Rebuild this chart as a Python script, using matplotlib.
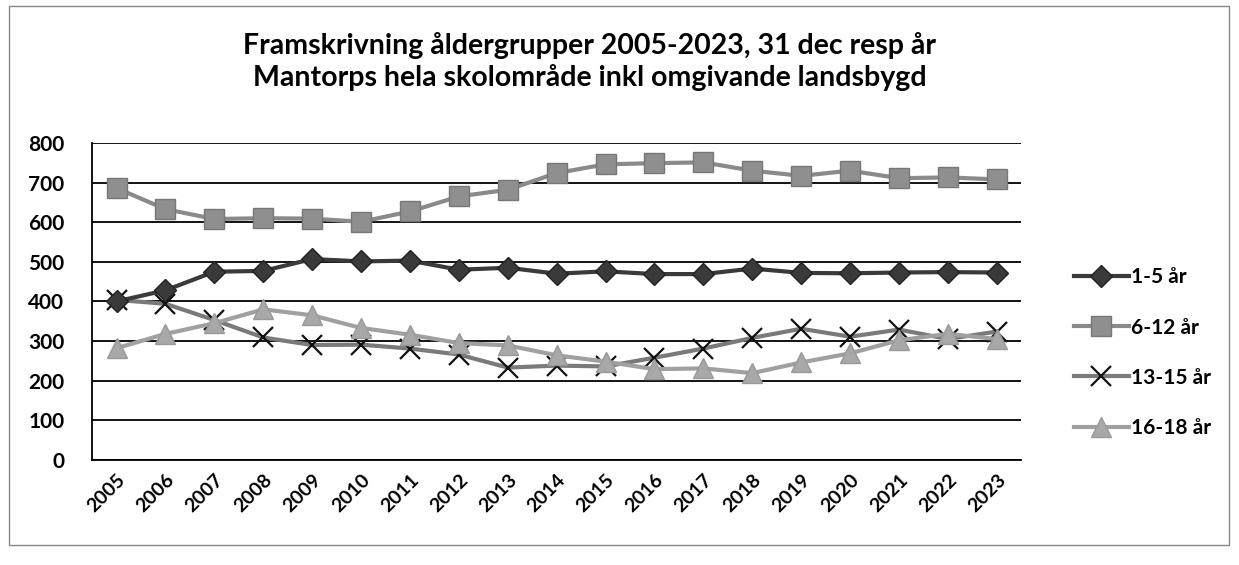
import matplotlib
matplotlib.use("Agg")
import matplotlib.pyplot as plt
from matplotlib.patches import Rectangle

years = [str(y) for y in range(2005, 2024)]
age_1_5 = [400, 428, 475, 477, 507, 501, 503, 480, 485, 470, 476, 469, 469, 483, 472, 471, 473, 474, 473]
age_6_12 = [686, 633, 608, 610, 609, 601, 627, 665, 682, 724, 746, 749, 751, 730, 717, 730, 711, 713, 708]
age_13_15 = [404, 394, 353, 309, 290, 291, 281, 266, 233, 238, 236, 258, 281, 308, 331, 311, 329, 305, 324]
age_16_18 = [282, 318, 345, 380, 365, 333, 316, 295, 289, 264, 248, 229, 231, 219, 246, 269, 302, 318, 305]
labels = ["1-5 år", "6-12 år", "13-15 år", "16-18 år"]

plt.rcParams['font.family'] = ['Lato', 'DejaVu Sans']

fig = plt.figure(figsize=(12.39, 5.65), dpi=100)
ax = fig.add_axes([0.0743, 0.186, 0.750, 0.561])

x = list(range(len(years)))
ax.plot(x, age_1_5, color='#3a3a3a', lw=3, marker='D', ms=11,
        mfc='#3a3a3a', mec='#222222', label=labels[0], zorder=4)
ax.plot(x, age_6_12, color='#8a8a8a', lw=3, marker='s', ms=15,
        mfc='#8f8f8f', mec='#777777', label=labels[1], zorder=3)
ax.plot(x, age_13_15, color='#7a7a7a', lw=3, marker='x', ms=14,
        mec='#111111', mew=1.6, label=labels[2], zorder=3)
ax.plot(x, age_16_18, color='#a0a0a0', lw=3, marker='^', ms=14,
        mfc='#a8a8a8', mec='#999999', label=labels[3], zorder=3)

ax.set_ylim(0, 800)
ax.set_yticks(range(0, 801, 100))
ax.set_xlim(-0.5, len(years) - 0.5)
ax.set_xticks(x)
ax.set_xticklabels(years, rotation=45, ha='right', rotation_mode='anchor',
                   fontsize=14, fontweight='bold')
ax.set_yticklabels([str(v) for v in range(0, 801, 100)], fontsize=15, fontweight='bold')
ax.yaxis.grid(True, color='black', lw=1.3)
ax.set_axisbelow(True)
for s in ['top', 'right']:
    ax.spines[s].set_visible(False)
ax.spines['left'].set_linewidth(1.3)
ax.spines['bottom'].set_linewidth(1.3)
ax.yaxis.set_tick_params(length=0, pad=20)
ax.xaxis.set_tick_params(length=0, pad=8)

leg = fig.legend(loc='upper left', bbox_to_anchor=(0.852, 0.56), frameon=False,
                 fontsize=15, labelspacing=1.45, handlelength=2.6, handletextpad=0.1)
for t in leg.get_texts():
    t.set_fontweight('bold')

fig.text(0.476, 0.92, "Framskrivning åldergrupper 2005-2023, 31 dec resp år",
         ha='center', va='center', fontsize=20.5, fontweight='bold')
fig.text(0.476, 0.862, "Mantorps hela skolområde inkl omgivande landsbygd",
         ha='center', va='center', fontsize=20.5, fontweight='bold')

fig.patches.append(Rectangle((0.007, 0.035), 0.985, 0.955, transform=fig.transFigure,
                             fill=False, edgecolor='#888888', lw=1))

fig.savefig('out.png', dpi=100)
